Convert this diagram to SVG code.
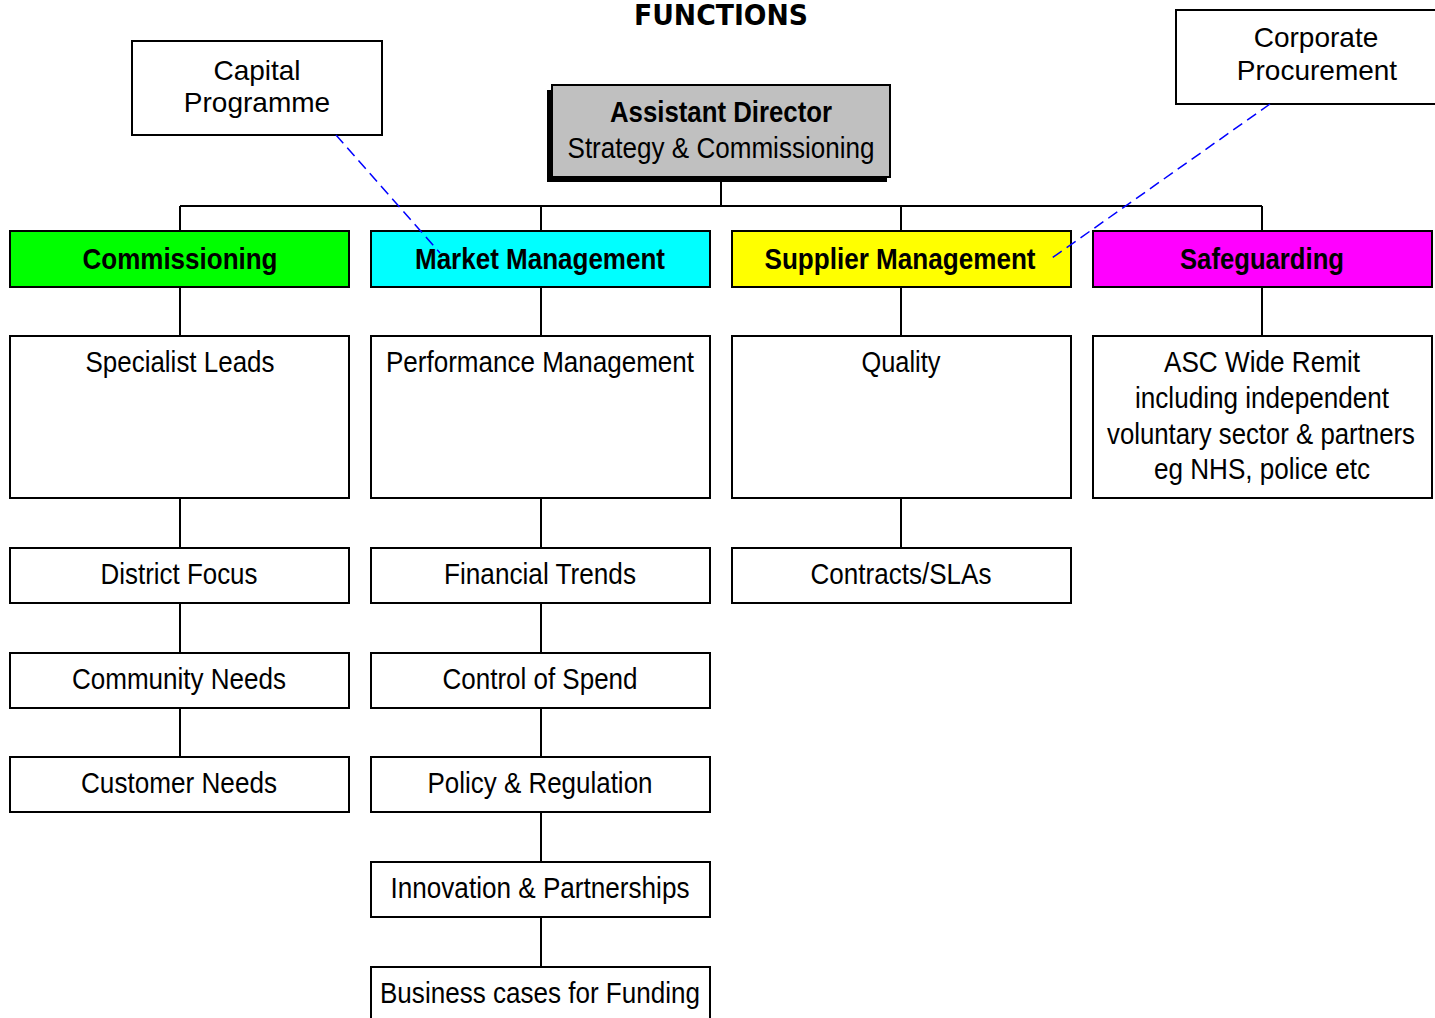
<svg xmlns="http://www.w3.org/2000/svg" width="1435" height="1018" viewBox="0 0 1435 1018">
<style>
.box{fill:#fff;stroke:#000;stroke-width:2}
.t{font-family:"Liberation Sans",Arial,sans-serif;font-size:29px;fill:#000;text-anchor:middle}
.w{font-family:"Liberation Sans",Arial,sans-serif;font-size:28px;fill:#000;text-anchor:middle}
.b{font-family:"Liberation Sans",Arial,sans-serif;font-size:30px;font-weight:bold;fill:#000;text-anchor:middle}
.ln{stroke:#000;stroke-width:2;fill:none}
.dash{stroke:#0000FF;stroke-width:1.5;stroke-dasharray:11,6;fill:none}
</style>
<rect width="1435" height="1018" fill="#fff"/>
<text x="721" y="25" font-family="'DejaVu Sans',Verdana,sans-serif" font-size="28" font-weight="bold" text-anchor="middle" textLength="174" lengthAdjust="spacingAndGlyphs">FUNCTIONS</text>

<g id="connectors">
<line class="ln" x1="721" y1="178" x2="721" y2="206"/>
<line class="ln" x1="180" y1="206" x2="1262" y2="206"/>
<line class="ln" x1="180" y1="206" x2="180" y2="231"/>
<line class="ln" x1="541" y1="206" x2="541" y2="231"/>
<line class="ln" x1="901" y1="206" x2="901" y2="231"/>
<line class="ln" x1="1262" y1="206" x2="1262" y2="231"/>
<line class="ln" x1="180" y1="287" x2="180" y2="336"/>
<line class="ln" x1="541" y1="287" x2="541" y2="336"/>
<line class="ln" x1="901" y1="287" x2="901" y2="336"/>
<line class="ln" x1="1262" y1="287" x2="1262" y2="336"/>
<line class="ln" x1="180" y1="498" x2="180" y2="548"/>
<line class="ln" x1="180" y1="603" x2="180" y2="653"/>
<line class="ln" x1="180" y1="708" x2="180" y2="757"/>
<line class="ln" x1="541" y1="498" x2="541" y2="548"/>
<line class="ln" x1="541" y1="603" x2="541" y2="653"/>
<line class="ln" x1="541" y1="708" x2="541" y2="757"/>
<line class="ln" x1="541" y1="812" x2="541" y2="862"/>
<line class="ln" x1="541" y1="917" x2="541" y2="967"/>
<line class="ln" x1="901" y1="498" x2="901" y2="548"/>
</g>

<g id="ad">
<rect x="547" y="90" width="340" height="92" fill="#000"/>
<rect x="552" y="85" width="338" height="92" fill="#C0C0C0" stroke="#000" stroke-width="2"/>
<text class="b" x="721" y="122" font-size="28" textLength="222" lengthAdjust="spacingAndGlyphs">Assistant Director</text>
<text class="t" x="721" y="158" textLength="307" lengthAdjust="spacingAndGlyphs">Strategy &amp; Commissioning</text>
</g>

<g id="capital">
<rect class="box" x="132" y="41" width="250" height="94"/>
<text class="w" x="257" y="80">Capital</text>
<text class="w" x="257" y="112">Programme</text>
</g>

<g id="corporate">
<rect class="box" x="1176" y="10" width="262" height="94"/>
<text class="w" x="1316" y="47">Corporate</text>
<text class="w" x="1317" y="80">Procurement</text>
</g>

<g id="commissioning">
<rect x="10" y="231" width="339" height="56" fill="#00FF00" stroke="#000" stroke-width="2"/>
<text class="b" x="180" y="269" textLength="195" lengthAdjust="spacingAndGlyphs">Commissioning</text>
</g>
<g id="market">
<rect x="371" y="231" width="339" height="56" fill="#00FFFF" stroke="#000" stroke-width="2"/>
<text class="b" x="540" y="269" textLength="250" lengthAdjust="spacingAndGlyphs">Market Management</text>
</g>
<g id="supplier">
<rect x="732" y="231" width="339" height="56" fill="#FFFF00" stroke="#000" stroke-width="2"/>
<text class="b" x="900" y="269" textLength="271" lengthAdjust="spacingAndGlyphs">Supplier Management</text>
</g>
<g id="safeguarding">
<rect x="1093" y="231" width="339" height="56" fill="#FF00FF" stroke="#000" stroke-width="2"/>
<text class="b" x="1262" y="269" textLength="164" lengthAdjust="spacingAndGlyphs">Safeguarding</text>
</g>

<g id="specialist">
<rect class="box" x="10" y="336" width="339" height="162"/>
<text class="t" x="180" y="372" textLength="189" lengthAdjust="spacingAndGlyphs">Specialist Leads</text>
</g>
<g id="performance">
<rect class="box" x="371" y="336" width="339" height="162"/>
<text class="t" x="540" y="372" textLength="308" lengthAdjust="spacingAndGlyphs">Performance Management</text>
</g>
<g id="quality">
<rect class="box" x="732" y="336" width="339" height="162"/>
<text class="t" x="901" y="372" textLength="79" lengthAdjust="spacingAndGlyphs">Quality</text>
</g>
<g id="asc">
<rect class="box" x="1093" y="336" width="339" height="162"/>
<text class="t" x="1262" y="372" textLength="196" lengthAdjust="spacingAndGlyphs">ASC Wide Remit</text>
<text class="t" x="1262" y="408" textLength="254" lengthAdjust="spacingAndGlyphs">including independent</text>
<text class="t" x="1261" y="444" textLength="308" lengthAdjust="spacingAndGlyphs">voluntary sector &amp; partners</text>
<text class="t" x="1262" y="479" textLength="216" lengthAdjust="spacingAndGlyphs">eg NHS, police etc</text>
</g>

<g id="district">
<rect class="box" x="10" y="548" width="339" height="55"/>
<text class="t" x="179" y="584" textLength="157" lengthAdjust="spacingAndGlyphs">District Focus</text>
</g>
<g id="financial">
<rect class="box" x="371" y="548" width="339" height="55"/>
<text class="t" x="540" y="584" textLength="192" lengthAdjust="spacingAndGlyphs">Financial Trends</text>
</g>
<g id="contracts">
<rect class="box" x="732" y="548" width="339" height="55"/>
<text class="t" x="901" y="584" textLength="181" lengthAdjust="spacingAndGlyphs">Contracts/SLAs</text>
</g>

<g id="community">
<rect class="box" x="10" y="653" width="339" height="55"/>
<text class="t" x="179" y="689" textLength="214" lengthAdjust="spacingAndGlyphs">Community Needs</text>
</g>
<g id="control">
<rect class="box" x="371" y="653" width="339" height="55"/>
<text class="t" x="540" y="689" textLength="195" lengthAdjust="spacingAndGlyphs">Control of Spend</text>
</g>

<g id="customer">
<rect class="box" x="10" y="757" width="339" height="55"/>
<text class="t" x="179" y="793" textLength="196" lengthAdjust="spacingAndGlyphs">Customer Needs</text>
</g>
<g id="policy">
<rect class="box" x="371" y="757" width="339" height="55"/>
<text class="t" x="540" y="793" textLength="225" lengthAdjust="spacingAndGlyphs">Policy &amp; Regulation</text>
</g>

<g id="innovation">
<rect class="box" x="371" y="862" width="339" height="55"/>
<text class="t" x="540" y="898" textLength="299" lengthAdjust="spacingAndGlyphs">Innovation &amp; Partnerships</text>
</g>
<g id="business">
<rect class="box" x="371" y="967" width="339" height="60"/>
<text class="t" x="540" y="1003" textLength="320" lengthAdjust="spacingAndGlyphs">Business cases for Funding</text>
</g>

<g id="dashed-links">
<line class="dash" x1="336" y1="135" x2="440" y2="253"/>
<line class="dash" x1="1270" y1="104" x2="1052" y2="258"/>
</g>
</svg>
